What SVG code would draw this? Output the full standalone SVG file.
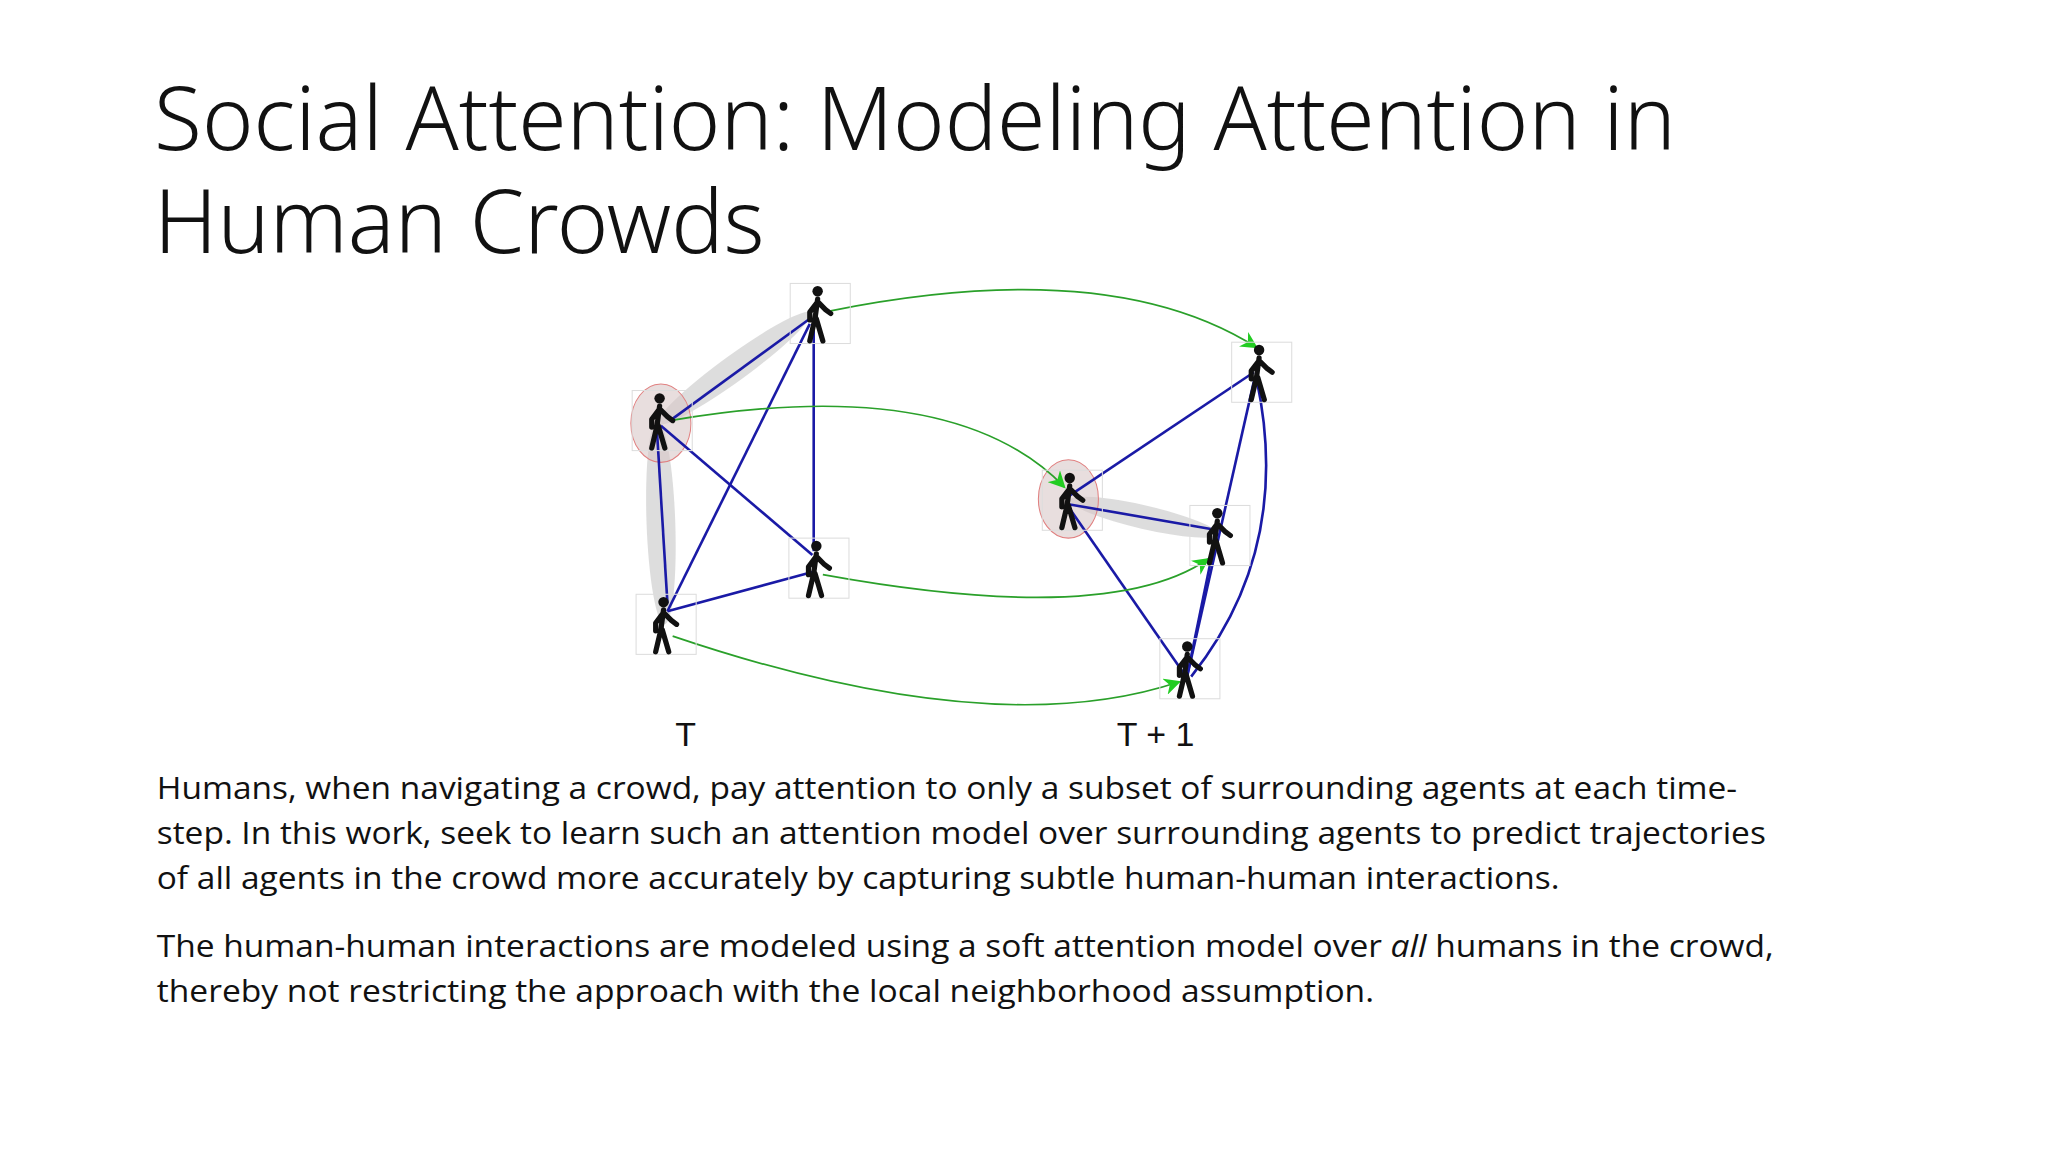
<svg xmlns="http://www.w3.org/2000/svg" width="2048" height="1152" viewBox="0 0 2048 1152">
<style>
.title{font-family:"Noto Sans","Liberation Sans",sans-serif;font-weight:300;font-size:67px;fill:#111}
.body{font-family:"Open Sans","Liberation Sans",sans-serif;font-size:24px;fill:#111}
.lbl{font-family:"Liberation Sans",sans-serif;font-size:26px;fill:#111}
.blue{stroke:#1a1aa6;stroke-width:2;fill:none}
.green{stroke:#2aa02a;stroke-width:1.3;fill:none}
.att{fill:#bbb;opacity:0.5}
.box{fill:none;stroke:#ddd;stroke-width:0.8}
</style>
<defs>
<marker id="ga" viewBox="0 0 10 10" refX="9" refY="5" markerWidth="10" markerHeight="10" orient="auto"><path d="M0,0 L10,5 L0,10 L3,5 Z" fill="#22cc22"/></marker>
<g id="walker">
<rect class="box" x="-21" y="-23" width="46" height="46"/>
<circle cx="0" cy="-17" r="4" fill="#111"/>
<path d="M0,-11 L-2,4 M-2,4 L-6,21 M-1,4 L4,21 M0,-9 L-6,-1 L-6,5 M0,-9 L6,-3 L10,0" stroke="#111" stroke-width="4" stroke-linecap="round" stroke-linejoin="round" fill="none"/>
</g>
</defs>
<rect width="2048" height="1152" fill="#fff"/>
<g transform="scale(1.30612)">
<g id="title">
<text class="title" x="118" y="115">Social Attention: Modeling Attention in</text>
<text class="title" x="118" y="194">Human Crowds</text>
</g>
<g id="attention">
<ellipse class="att" cx="562" cy="282" rx="72" ry="10" transform="rotate(-36 562 282)"/>
<ellipse class="att" cx="506" cy="400" rx="11" ry="78" transform="rotate(-2 506 400)"/>
<ellipse class="att" cx="876" cy="396" rx="58" ry="9" transform="rotate(13 876 396)"/>
<ellipse cx="506" cy="324" rx="23" ry="30" fill="#d8c8c8" fill-opacity="0.6" stroke="#e08080" stroke-width="0.8"/>
<ellipse cx="818" cy="382" rx="23" ry="30" fill="#d8c8c8" fill-opacity="0.6" stroke="#e08080" stroke-width="0.8"/>
</g>
<g id="connectors">
<line class="blue" x1="620" y1="244" x2="513" y2="322" stroke-width="1.3"/>
<line class="blue" x1="503" y1="330" x2="511" y2="462" stroke-width="1.3"/>
<line class="blue" x1="506" y1="326" x2="622" y2="425"/>
<line class="blue" x1="511" y1="468" x2="620" y2="248"/>
<line class="blue" x1="511" y1="468" x2="622" y2="438"/>
<line class="blue" x1="623" y1="245" x2="623" y2="422" stroke-width="1.5"/>
<line class="blue" x1="818" y1="380" x2="960" y2="285"/>
<line class="blue" x1="818" y1="386" x2="927" y2="405" stroke-width="1.3"/>
<line class="blue" x1="818" y1="388" x2="906" y2="515"/>
<line class="blue" x1="908" y1="522" x2="960" y2="292"/>
<line class="blue" x1="908" y1="522" x2="932" y2="405"/>
<path class="blue" d="M912,518 Q990,420 962,290"/>
<path class="green" marker-end="url(#ga)" d="M636,238 Q850,195 962,266"/>
<path class="green" marker-end="url(#ga)" d="M513,322 Q730,285 815,373"/>
<path class="green" marker-end="url(#ga)" d="M630,440 Q850,480 925,428"/>
<path class="green" marker-end="url(#ga)" d="M515,487 Q760,570 903,522"/>
</g>
<g id="n1"><use href="#walker" x="505" y="322"/></g>
<g id="n2"><use href="#walker" x="626" y="240"/></g>
<g id="n3"><use href="#walker" x="508" y="478"/></g>
<g id="n4"><use href="#walker" x="625" y="435"/></g>
<g id="n5"><use href="#walker" x="819" y="383"/></g>
<g id="n6"><use href="#walker" x="964" y="285"/></g>
<g id="n7"><use href="#walker" x="932" y="410"/></g>
<g id="n8"><use href="#walker" x="909" y="512"/></g>
<g id="labels">
<text class="lbl" x="517" y="571">T</text>
<text class="lbl" x="855" y="571">T + 1</text>
</g>
<g id="text">
<text class="body" x="120" y="612" textLength="1210" lengthAdjust="spacingAndGlyphs">Humans, when navigating a crowd, pay attention to only a subset of surrounding agents at each time-</text>
<text class="body" x="120" y="646" textLength="1232" lengthAdjust="spacingAndGlyphs">step. In this work, seek to learn such an attention model over surrounding agents to predict trajectories</text>
<text class="body" x="120" y="681" textLength="1074" lengthAdjust="spacingAndGlyphs">of all agents in the crowd more accurately by capturing subtle human-human interactions.</text>
<text class="body" x="120" y="733" textLength="1238" lengthAdjust="spacingAndGlyphs">The human-human interactions are modeled using a soft attention model over <tspan font-style="italic">all</tspan> humans in the crowd,</text>
<text class="body" x="120" y="767" textLength="932" lengthAdjust="spacingAndGlyphs">thereby not restricting the approach with the local neighborhood assumption.</text>
</g>
</g>
</svg>
